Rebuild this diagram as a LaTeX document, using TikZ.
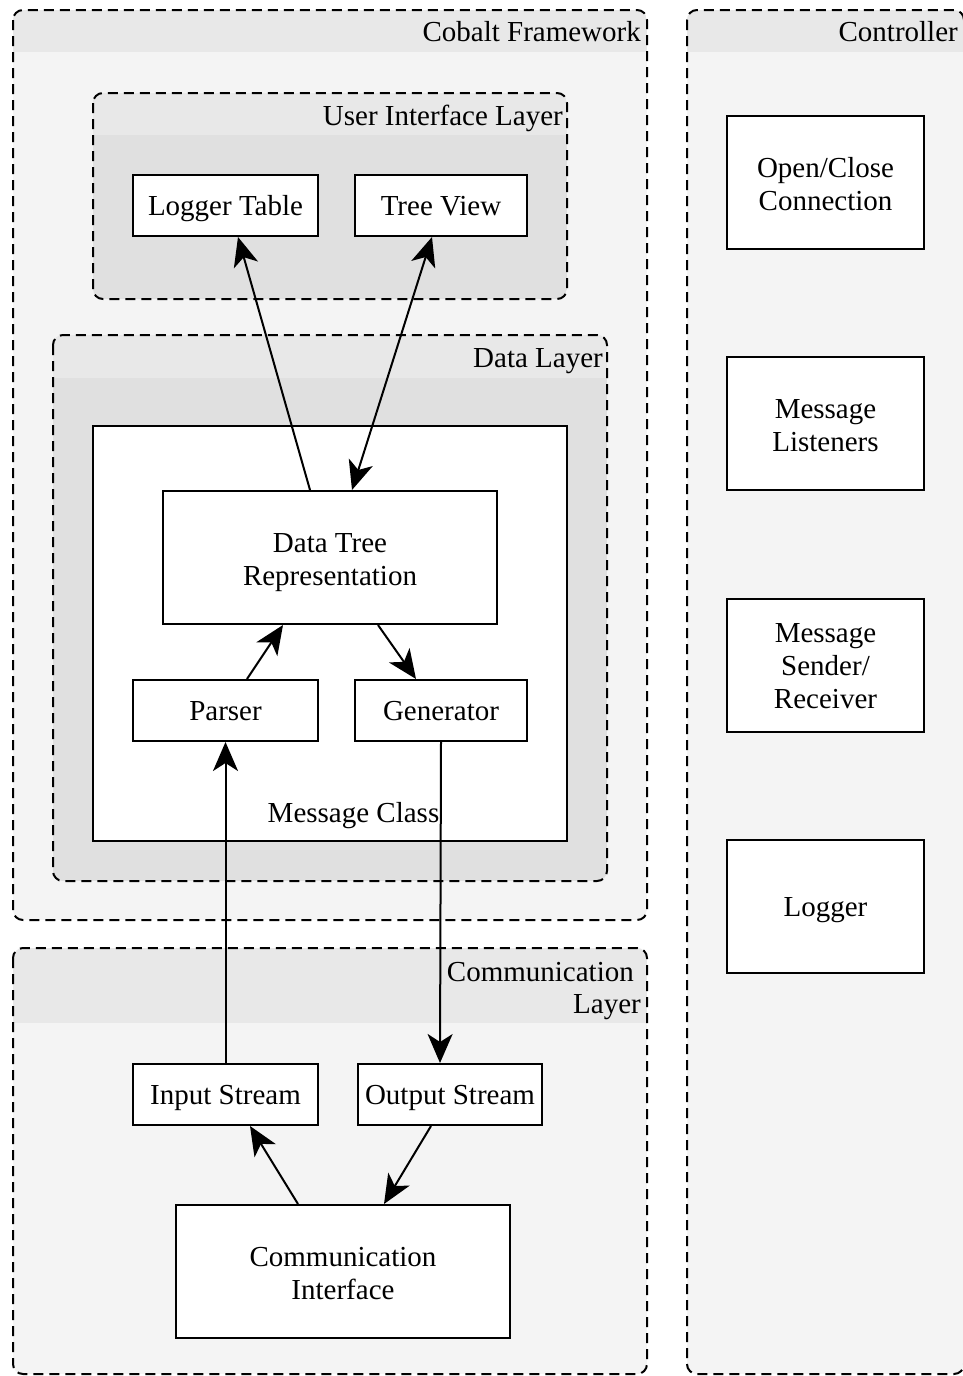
\documentclass[tikz,border=0pt]{standalone}
\usepackage{fontspec}
\setmainfont{Liberation Serif}
\usetikzlibrary{arrows.meta}

\definecolor{bandgray}{HTML}{E8E8E8}
\definecolor{outergray}{HTML}{F4F4F4}
\definecolor{innergray}{HTML}{E0E0E0}

\tikzset{
  block/.style={draw, line width=2pt, fill=white, inner sep=0pt, align=center,
    font=\fontsize{29}{33}\selectfont, text height=25pt, text depth=6pt},
  twolines/.style={text height=60pt, text depth=5pt},
  threelines/.style={text height=91pt, text depth=6pt},
  grouplabel/.style={inner sep=0pt, align=right, font=\fontsize{29}{32}\selectfont},
  groupline/.style={draw, line width=2pt, dash pattern=on 10pt off 6pt, rounded corners=10pt},
  tip/.style={Stealth[length=29pt,width=25pt,inset=8pt]},
  flow/.style={line width=2pt, -{Stealth[length=29pt,width=25pt,inset=8pt]}},
  duplex/.style={line width=2pt, {Stealth[length=29pt,width=25pt,inset=8pt]}-{Stealth[length=29pt,width=25pt,inset=8pt]}}
}

% dashed group frame: x1 y1 x2 y2 band-bottom band-colour body-colour
\newcommand{\groupframe}[7]{%
  \begin{scope}
    \clip[rounded corners=10pt] (#1,#2) rectangle (#3,#4);
    \fill[#7] (#1,#2) rectangle (#3,#4);
    \fill[#6] (#1,#2) rectangle (#3,#5);
  \end{scope}
  \draw[groupline] (#1,#2) rectangle (#3,#4);
}

\begin{document}
\begin{tikzpicture}[x=1pt, y=-1pt]
\useasboundingbox (0,0) rectangle (962,1376);
\fill[white] (0,0) rectangle (962,1376);

% outer groups
\groupframe{13}{10}{647}{920}{52}{bandgray}{outergray}
\node[grouplabel, anchor=base east] (cobaltlabel) at (641,41) {Cobalt Framework};

\groupframe{687}{10}{964}{1374}{52}{bandgray}{outergray}
\node[grouplabel, anchor=base east] (ctrllabel) at (958,41) {Controller};

\groupframe{13}{948}{647}{1374}{1023}{bandgray}{outergray}
\node[grouplabel, anchor=base east] (commlabel) at (641,1013) {Communication\hspace*{7pt}\\Layer};

% inner groups
\groupframe{93}{93}{567}{299}{135}{bandgray}{innergray}
\node[grouplabel, anchor=base east] (uilabel) at (563,125) {User Interface Layer};

\groupframe{53}{335}{607}{881}{378}{bandgray}{innergray}
\node[grouplabel, anchor=base east] (datalabel) at (603,367) {Data Layer};

% message class container
\node[block, text height=, text depth=, minimum width=474pt, minimum height=415pt] (msgclass) at (330,633.5) {};
\node[grouplabel, anchor=base] (msglabel) at (353.5,822) {Message Class};

% user interface layer
\node[block, minimum width=185pt, minimum height=61pt] (logtable) at (225.5,205.5) {Logger Table};
\node[block, minimum width=172pt, minimum height=61pt] (treeview) at (441,205.5) {Tree View};

% data layer
\node[block, twolines, minimum width=334pt, minimum height=133pt] (datatree) at (330,557.5) {Data Tree\\Representation};
\node[block, minimum width=185pt, minimum height=61pt] (parser) at (225.5,710.5) {Parser};
\node[block, minimum width=172pt, minimum height=61pt] (generator) at (441,710.5) {Generator};

% communication layer
\node[block, minimum width=185pt, minimum height=61pt] (instream) at (225.5,1094.5) {Input Stream};
\node[block, minimum width=184pt, minimum height=61pt] (outstream) at (450,1094.5) {Output Stream};
\node[block, twolines, minimum width=334pt, minimum height=133pt] (comif) at (343,1271.5) {Communication\\Interface};

% controller
\node[block, twolines, minimum width=197pt, minimum height=133pt] (openclose) at (825.5,182.5) {Open/Close\\Connection};
\node[block, twolines, minimum width=197pt, minimum height=133pt] (listeners) at (825.5,423.5) {Message\\Listeners};
\node[block, threelines, minimum width=197pt, minimum height=133pt] (sender) at (825.5,665.5) {Message\\Sender/\\Receiver};
\node[block, minimum width=197pt, minimum height=133pt] (logger) at (825.5,906.5) {Logger};

% connectors
\draw[flow] ([xshift=-20pt]datatree.north) -- ([xshift=12.5pt]logtable.south);
\draw[duplex] ([xshift=-9pt]treeview.south) -- ([xshift=22pt]datatree.north);
\draw[flow] ([xshift=21.5pt]parser.north) -- ([xshift=-47pt]datatree.south);
\draw[flow] ([xshift=48pt]datatree.south) -- ([xshift=-25pt]generator.north);
\draw[flow] (instream.north) -- (parser.south);
\draw[flow] (generator.south) -- ([xshift=-10pt]outstream.north);
\draw[flow] ([xshift=-45pt]comif.north) -- ([xshift=24.5pt]instream.south);
\draw[flow] ([xshift=-19pt]outstream.south) -- ([xshift=41pt]comif.north);
\end{tikzpicture}
\end{document}
